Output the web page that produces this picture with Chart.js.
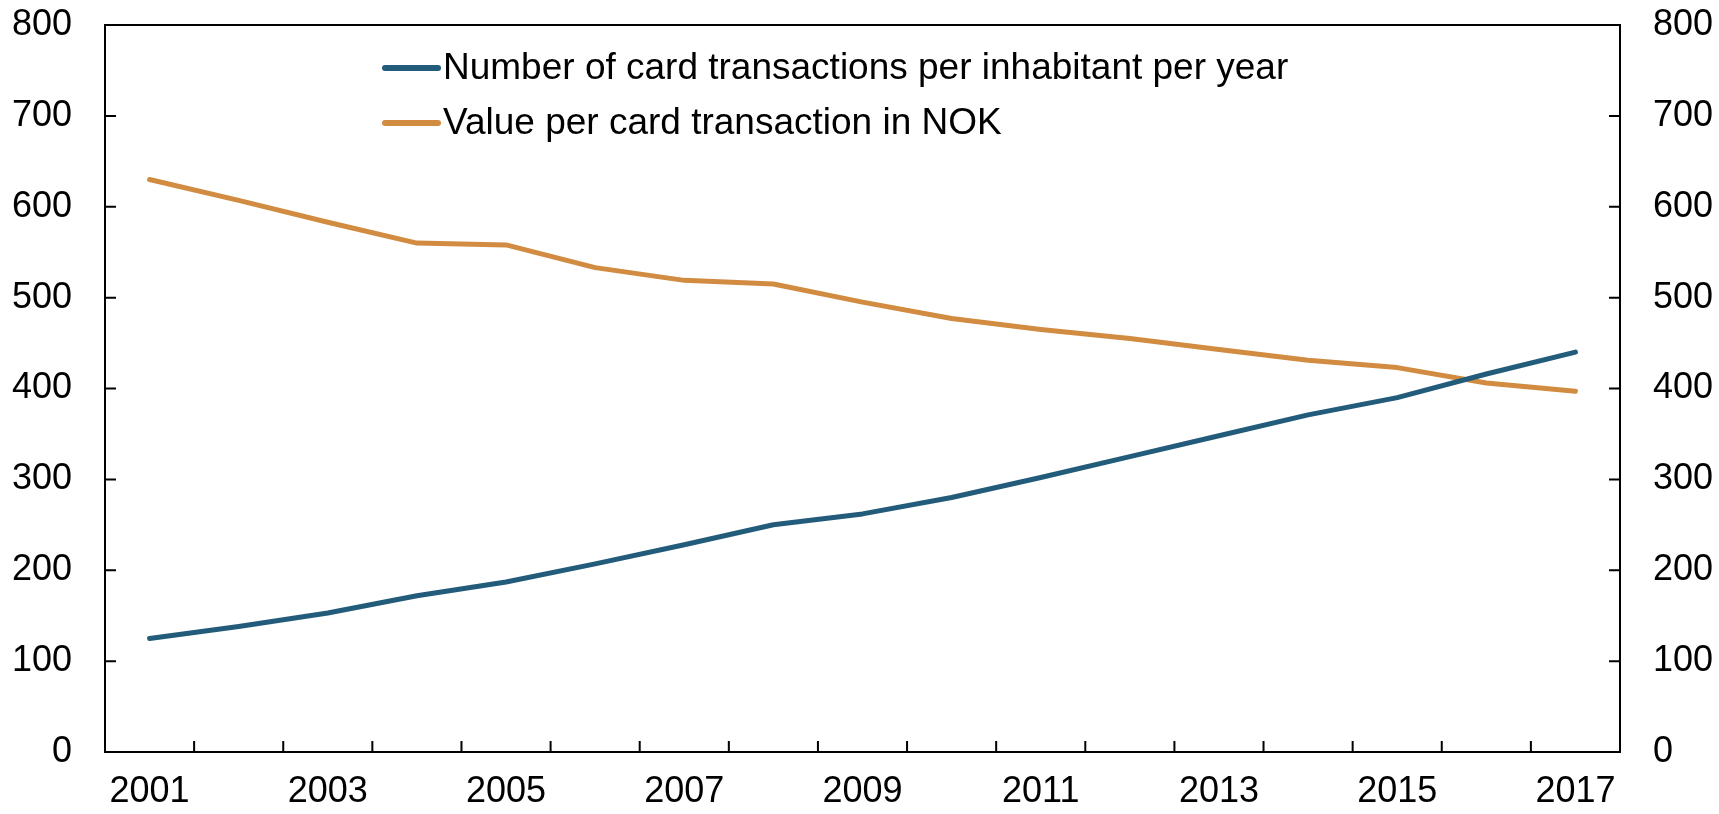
<!DOCTYPE html>
<html>
<head>
<meta charset="utf-8">
<script src="https://cdn.jsdelivr.net/npm/chart.js@4"></script>
<style>
  html, body { margin: 0; padding: 0; background: #fff; }
  #wrap { width: 1719px; height: 814px; position: relative; }
</style>
</head>
<body>
<div id="wrap"><canvas id="chart"></canvas></div>
<script>
const years = ["2001", "2002", "2003", "2004", "2005", "2006", "2007", "2008", "2009",
  "2010", "2011", "2012", "2013", "2014", "2015", "2016", "2017"];
const transactionsPerInhabitant = [125, 138, 153, 172, 187, 207, 228, 250, 262, 280, 302, 325, 348, 371, 390, 416, 440];
const valuePerTransaction = [630, 607, 583, 560, 558, 533, 519, 515, 495, 477, 465, 455, 443, 431, 423, 406, 397];
const seriesLabels = ["Number of card transactions per inhabitant per year", "Value per card transaction in NOK"];
const yTicks = [0, 100, 200, 300, 400, 500, 600, 700, 800];

const BLUE = "#235b7b";
const ORANGE = "#d18c41";

Chart.defaults.font.family = "'Liberation Sans', Arial, sans-serif";
Chart.defaults.color = "#000";

// box, inward tick marks and the legend inside the plot
const framePlugin = {
  id: "frame",
  afterDraw(chart) {
    const ctx = chart.ctx;
    const a = chart.chartArea;
    const x = chart.scales.x;
    const y = chart.scales.y;
    ctx.save();
    ctx.strokeStyle = "#000";
    ctx.lineWidth = 2;
    ctx.strokeRect(a.left, a.top, a.right - a.left, a.bottom - a.top);

    ctx.beginPath();
    for (let i = 1; i < years.length; i++) {
      const px = (x.getPixelForValue(i - 1) + x.getPixelForValue(i)) / 2;
      ctx.moveTo(px, a.bottom);
      ctx.lineTo(px, a.bottom - 11);
    }
    yTicks.forEach(v => {
      const py = y.getPixelForValue(v);
      ctx.moveTo(a.left, py);
      ctx.lineTo(a.left + 11, py);
      ctx.moveTo(a.right, py);
      ctx.lineTo(a.right - 11, py);
    });
    ctx.stroke();

    // legend
    ctx.font = "37px 'Liberation Sans', Arial, sans-serif";
    ctx.textBaseline = "middle";
    ctx.lineCap = "round";
    chart.data.datasets.forEach((ds, i) => {
      const ly = a.top + 43 + i * 55;
      ctx.strokeStyle = ds.borderColor;
      ctx.lineWidth = 6;
      ctx.beginPath();
      ctx.moveTo(a.left + 280, ly);
      ctx.lineTo(a.left + 333, ly);
      ctx.stroke();
      ctx.fillStyle = "#000";
      ctx.fillText(ds.label, a.left + 338, ly + 1);
    });
    ctx.restore();
  }
};

const fitY = w => s => {
  s.width = w;
  s.paddingTop = 0;
  s.paddingBottom = 0;
};

new Chart(document.getElementById("chart"), {
  type: "line",
  data: {
    labels: years,
    datasets: [
      {
        label: seriesLabels[0],
        data: transactionsPerInhabitant,
        borderColor: BLUE,
        backgroundColor: BLUE,
        borderWidth: 5,
        borderCapStyle: "round",
        borderJoinStyle: "round",
        pointRadius: 0,
        tension: 0,
        yAxisID: "y"
      },
      {
        label: seriesLabels[1],
        data: valuePerTransaction,
        borderColor: ORANGE,
        backgroundColor: ORANGE,
        borderWidth: 5,
        borderCapStyle: "round",
        borderJoinStyle: "round",
        pointRadius: 0,
        tension: 0,
        yAxisID: "y1"
      }
    ]
  },
  options: {
    responsive: true,
    maintainAspectRatio: false,
    animation: false,
    layout: { padding: { top: 25, left: 0, right: 0, bottom: 0 } },
    plugins: {
      legend: { display: false },
      tooltip: { enabled: false }
    },
    scales: {
      x: {
        offset: true,
        grid: { display: false, offset: true },
        border: { display: false },
        ticks: {
          autoSkip: false,
          maxRotation: 0,
          padding: 10,
          font: { size: 36 },
          callback: (v, i) => (i % 2 === 0 ? years[i] : "")
        },
        afterFit: s => { s.height = 62; }
      },
      y: {
        position: "left",
        min: 0,
        max: 800,
        grid: { display: false, drawTicks: false },
        border: { display: false },
        ticks: { stepSize: 100, padding: 33, font: { size: 36 } },
        afterFit: fitY(105)
      },
      y1: {
        position: "right",
        min: 0,
        max: 800,
        grid: { display: false, drawTicks: false },
        border: { display: false },
        ticks: { stepSize: 100, padding: 33, font: { size: 36 } },
        afterFit: fitY(99)
      }
    }
  },
  plugins: [framePlugin]
});
</script>
</body>
</html>
